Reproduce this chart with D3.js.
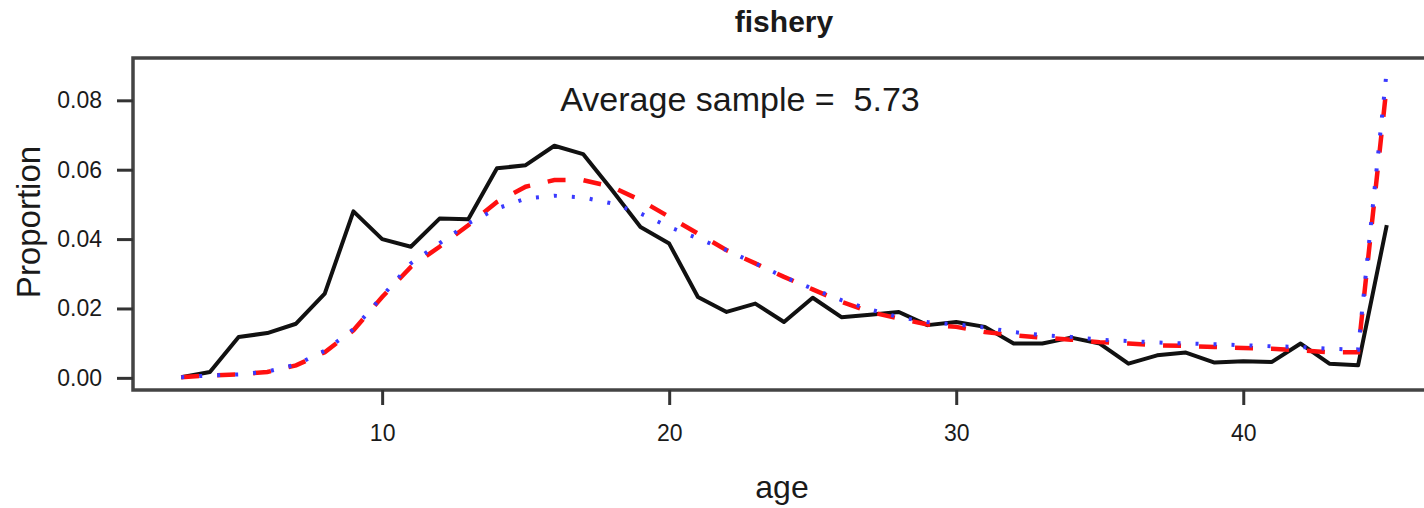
<!DOCTYPE html>
<html>
<head>
<meta charset="utf-8">
<script src="https://cdn.jsdelivr.net/npm/d3@7"></script>
<style>
  body { margin: 0; background: #fff; }
  svg { display: block; font-family: "Liberation Sans", Arial, sans-serif; }
</style>
</head>
<body>
<svg id="chart" width="1424" height="508"></svg>
<script>
// ages on the x axis
var ages = d3.range(3, 46);

// observed proportions (black solid)
var observed = [0.0002, 0.0017, 0.0118, 0.0129, 0.0156, 0.0243, 0.0480, 0.0400, 0.0378, 0.0459,
    0.0457, 0.0604, 0.0613, 0.0669, 0.0645, 0.0542, 0.0435, 0.0387, 0.0233, 0.0190,
    0.0214, 0.0161, 0.0231, 0.0175, 0.0182, 0.0190, 0.0152, 0.0161, 0.0147, 0.0099,
    0.0099, 0.0116, 0.0099, 0.0041, 0.0065, 0.0073, 0.0044, 0.0048, 0.0046, 0.0099,
    0.0041, 0.0036, 0.0440];

// expected, red dashed
var expectedA = [0.0002, 0.0007, 0.0010, 0.0017, 0.0036, 0.0074, 0.0137, 0.0233, 0.0320, 0.0378,
    0.0440, 0.0507, 0.0551, 0.0570, 0.0570, 0.0551, 0.0512, 0.0464, 0.0416, 0.0368,
    0.0330, 0.0291, 0.0255, 0.0219, 0.0190, 0.0171, 0.0154, 0.0147, 0.0132, 0.0123,
    0.0116, 0.0110, 0.0103, 0.0099, 0.0094, 0.0092, 0.0089, 0.0086, 0.0084, 0.0079,
    0.0074, 0.0074, 0.0845];

// expected, blue dotted
var expectedB = [0.0002, 0.0007, 0.0010, 0.0018, 0.0038, 0.0078, 0.0140, 0.0235, 0.0330, 0.0388,
    0.0445, 0.0488, 0.0517, 0.0525, 0.0520, 0.0503, 0.0474, 0.0435, 0.0402, 0.0368,
    0.0330, 0.0291, 0.0257, 0.0224, 0.0197, 0.0175, 0.0161, 0.0154, 0.0145, 0.0132,
    0.0123, 0.0118, 0.0110, 0.0106, 0.0102, 0.0099, 0.0097, 0.0094, 0.0091, 0.0089,
    0.0084, 0.0081, 0.0887];

var xTicks = [10, 20, 30, 40];
var yTicks = [0, 0.02, 0.04, 0.06, 0.08];

var svg = d3.select("svg#chart");

// plot region (R pads the data range by 4% each side)
var plotLeft = 133, plotRight = 1435, plotTop = 58, plotBottom = 390;

var x = d3.scaleLinear().domain([1.32, 46.68]).range([plotLeft, plotRight]);
var y = d3.scaleLinear().domain([-0.0035, 0.0922]).range([plotBottom, plotTop]);

var line = function (vals) {
    return d3.line()
        .x(function (d, i) { return x(ages[i]); })
        .y(function (d) { return y(d); })(vals);
};

svg.append("path")
    .attr("d", line(observed))
    .attr("fill", "none")
    .attr("stroke", "#111")
    .attr("stroke-width", 4)
    .attr("stroke-linejoin", "round");

svg.append("path")
    .attr("d", line(expectedA))
    .attr("fill", "none")
    .attr("stroke", "#ff1010")
    .attr("stroke-width", 4.5)
    .attr("stroke-dasharray", "18 18");

svg.append("path")
    .attr("d", line(expectedB))
    .attr("fill", "none")
    .attr("stroke", "#3a3aff")
    .attr("stroke-width", 4)
    .attr("stroke-dasharray", "3 15");

// box round the plot
svg.append("rect")
    .attr("x", plotLeft)
    .attr("y", plotTop)
    .attr("width", plotRight - plotLeft)
    .attr("height", plotBottom - plotTop)
    .attr("fill", "none")
    .attr("stroke", "#444")
    .attr("stroke-width", 3.5);

var xAxis = svg.append("g")
    .attr("transform", "translate(0," + plotBottom + ")")
    .call(d3.axisBottom(x).tickValues(xTicks).tickSize(15).tickPadding(20));

var yAxis = svg.append("g")
    .attr("transform", "translate(" + plotLeft + ",0)")
    .call(d3.axisLeft(y).tickValues(yTicks).tickFormat(d3.format(".2f")).tickSize(16).tickPadding(15));

[xAxis, yAxis].forEach(function (ax) {
    ax.select(".domain").remove();
    ax.selectAll(".tick line").attr("stroke", "#333").attr("stroke-width", 3);
    ax.selectAll(".tick text")
        .attr("fill", "#1a1a1a")
        .style("font-size", "23px")
        .style("font-family", "'Liberation Sans', Arial, sans-serif");
});

// titles
svg.append("text")
    .attr("x", 784).attr("y", 32)
    .attr("text-anchor", "middle")
    .style("font-size", "30px").style("font-weight", "bold")
    .attr("fill", "#1a1a1a")
    .text("fishery");

svg.append("text")
    .attr("x", 782).attr("y", 498)
    .attr("text-anchor", "middle")
    .style("font-size", "32px")
    .attr("fill", "#1a1a1a")
    .text("age");

svg.append("text")
    .attr("transform", "translate(40,222) rotate(-90)")
    .attr("text-anchor", "middle")
    .style("font-size", "33px")
    .attr("fill", "#1a1a1a")
    .text("Proportion");

svg.append("text")
    .attr("x", 740).attr("y", 111)
    .attr("text-anchor", "middle")
    .style("font-size", "34px")
    .style("white-space", "pre")
    .attr("xml:space", "preserve")
    .attr("fill", "#1a1a1a")
    .text("Average sample =  5.73");
</script>
</body>
</html>
